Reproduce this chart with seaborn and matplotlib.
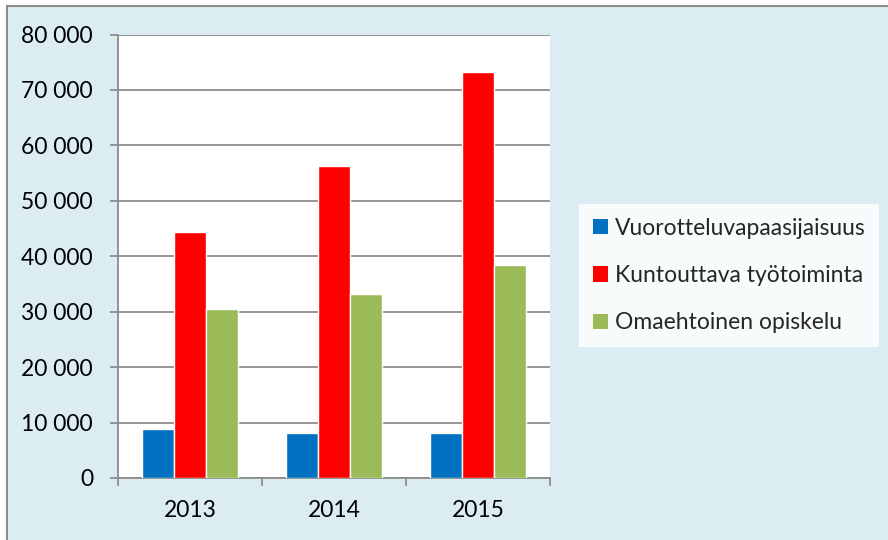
import numpy as np
import pandas as pd
import matplotlib
matplotlib.use('Agg')
from matplotlib import pyplot as plt
from matplotlib import ticker
from matplotlib.patches import Rectangle, Patch
import seaborn as sns

# DATA
years = ['2013', '2014', '2015']
series = ['Vuorotteluvapaasijaisuus', 'Kuntouttava työtoiminta', 'Omaehtoinen opiskelu']
vuorottelu = [8850, 8100, 8100]
kuntouttava = [44300, 56200, 73200]
omaehtoinen = [30450, 33200, 38500]
colors = ['#0070C0', '#FF0000', '#9BBB59']

df = pd.DataFrame({
    'Vuosi': years * 3,
    'Sarja': [series[0]] * 3 + [series[1]] * 3 + [series[2]] * 3,
    'Arvo': vuorottelu + kuntouttava + omaehtoinen,
})

sns.set_theme(style='white')
plt.rcParams['font.family'] = ['Lato', 'DejaVu Sans']

W, H = 888, 540
fig = plt.figure(figsize=(W / 100, H / 100), dpi=100)
fig.patch.set_facecolor('white')
# chart area background with grey border (starts a few px in, runs off right/bottom)
fig.patches.append(Rectangle((7 / W, -0.1), 1.2, 1.1 - 6 / H, transform=fig.transFigure,
                             facecolor='#DBEDF3', edgecolor='#8C8C8C', linewidth=1.5, zorder=-10))

ax = fig.add_axes([118 / W, 1 - 478 / H, (550 - 118) / W, (478 - 34.5) / H])
ax.set_facecolor('white')

sns.barplot(data=df, x='Vuosi', y='Arvo', hue='Sarja', palette=colors,
            width=0.667, gap=0, saturation=1, ax=ax, legend=False, zorder=3)

ax.set_ylim(0, 80000)
ax.set_xlim(-0.5, 2.5)
ax.yaxis.set_major_locator(ticker.MultipleLocator(10000))
ax.yaxis.set_major_formatter(ticker.FuncFormatter(lambda v, p: f'{int(v):,}'.replace(',', ' ')))
ax.grid(axis='y', color='#8C8C8C', linewidth=1.3, zorder=0)
ax.set_xlabel('')
ax.set_ylabel('')

for s in ['top', 'right']:
    ax.spines[s].set_visible(False)
for s in ['left', 'bottom']:
    ax.spines[s].set_color('#8C8C8C')
    ax.spines[s].set_linewidth(1.3)

ax.tick_params(axis='y', which='major', length=6, width=1.3, color='#8C8C8C',
               pad=12, labelsize=16.5, labelcolor='black', left=True)
ax.tick_params(axis='x', which='major', length=0, pad=16, labelsize=16.5, labelcolor='black')
ax.xaxis.set_minor_locator(ticker.FixedLocator([-0.5, 0.5, 1.5, 2.5]))
ax.tick_params(axis='x', which='minor', length=6, width=1.3, color='#8C8C8C', bottom=True)

handles = [Patch(facecolor=c, edgecolor='none') for c in colors]
leg = fig.legend(handles, series, loc='upper left',
                 bbox_to_anchor=(579 / W, 1 - 204 / H), frameon=True, fancybox=False,
                 fontsize=16.5, handlelength=0.65, handleheight=0.65, handletextpad=0.3,
                 labelspacing=1.15, borderpad=0.6, borderaxespad=0)
leg.get_frame().set_facecolor('white')
leg.get_frame().set_edgecolor('white')
leg.get_frame().set_linewidth(0)

fig.savefig('out.png', dpi=100)
